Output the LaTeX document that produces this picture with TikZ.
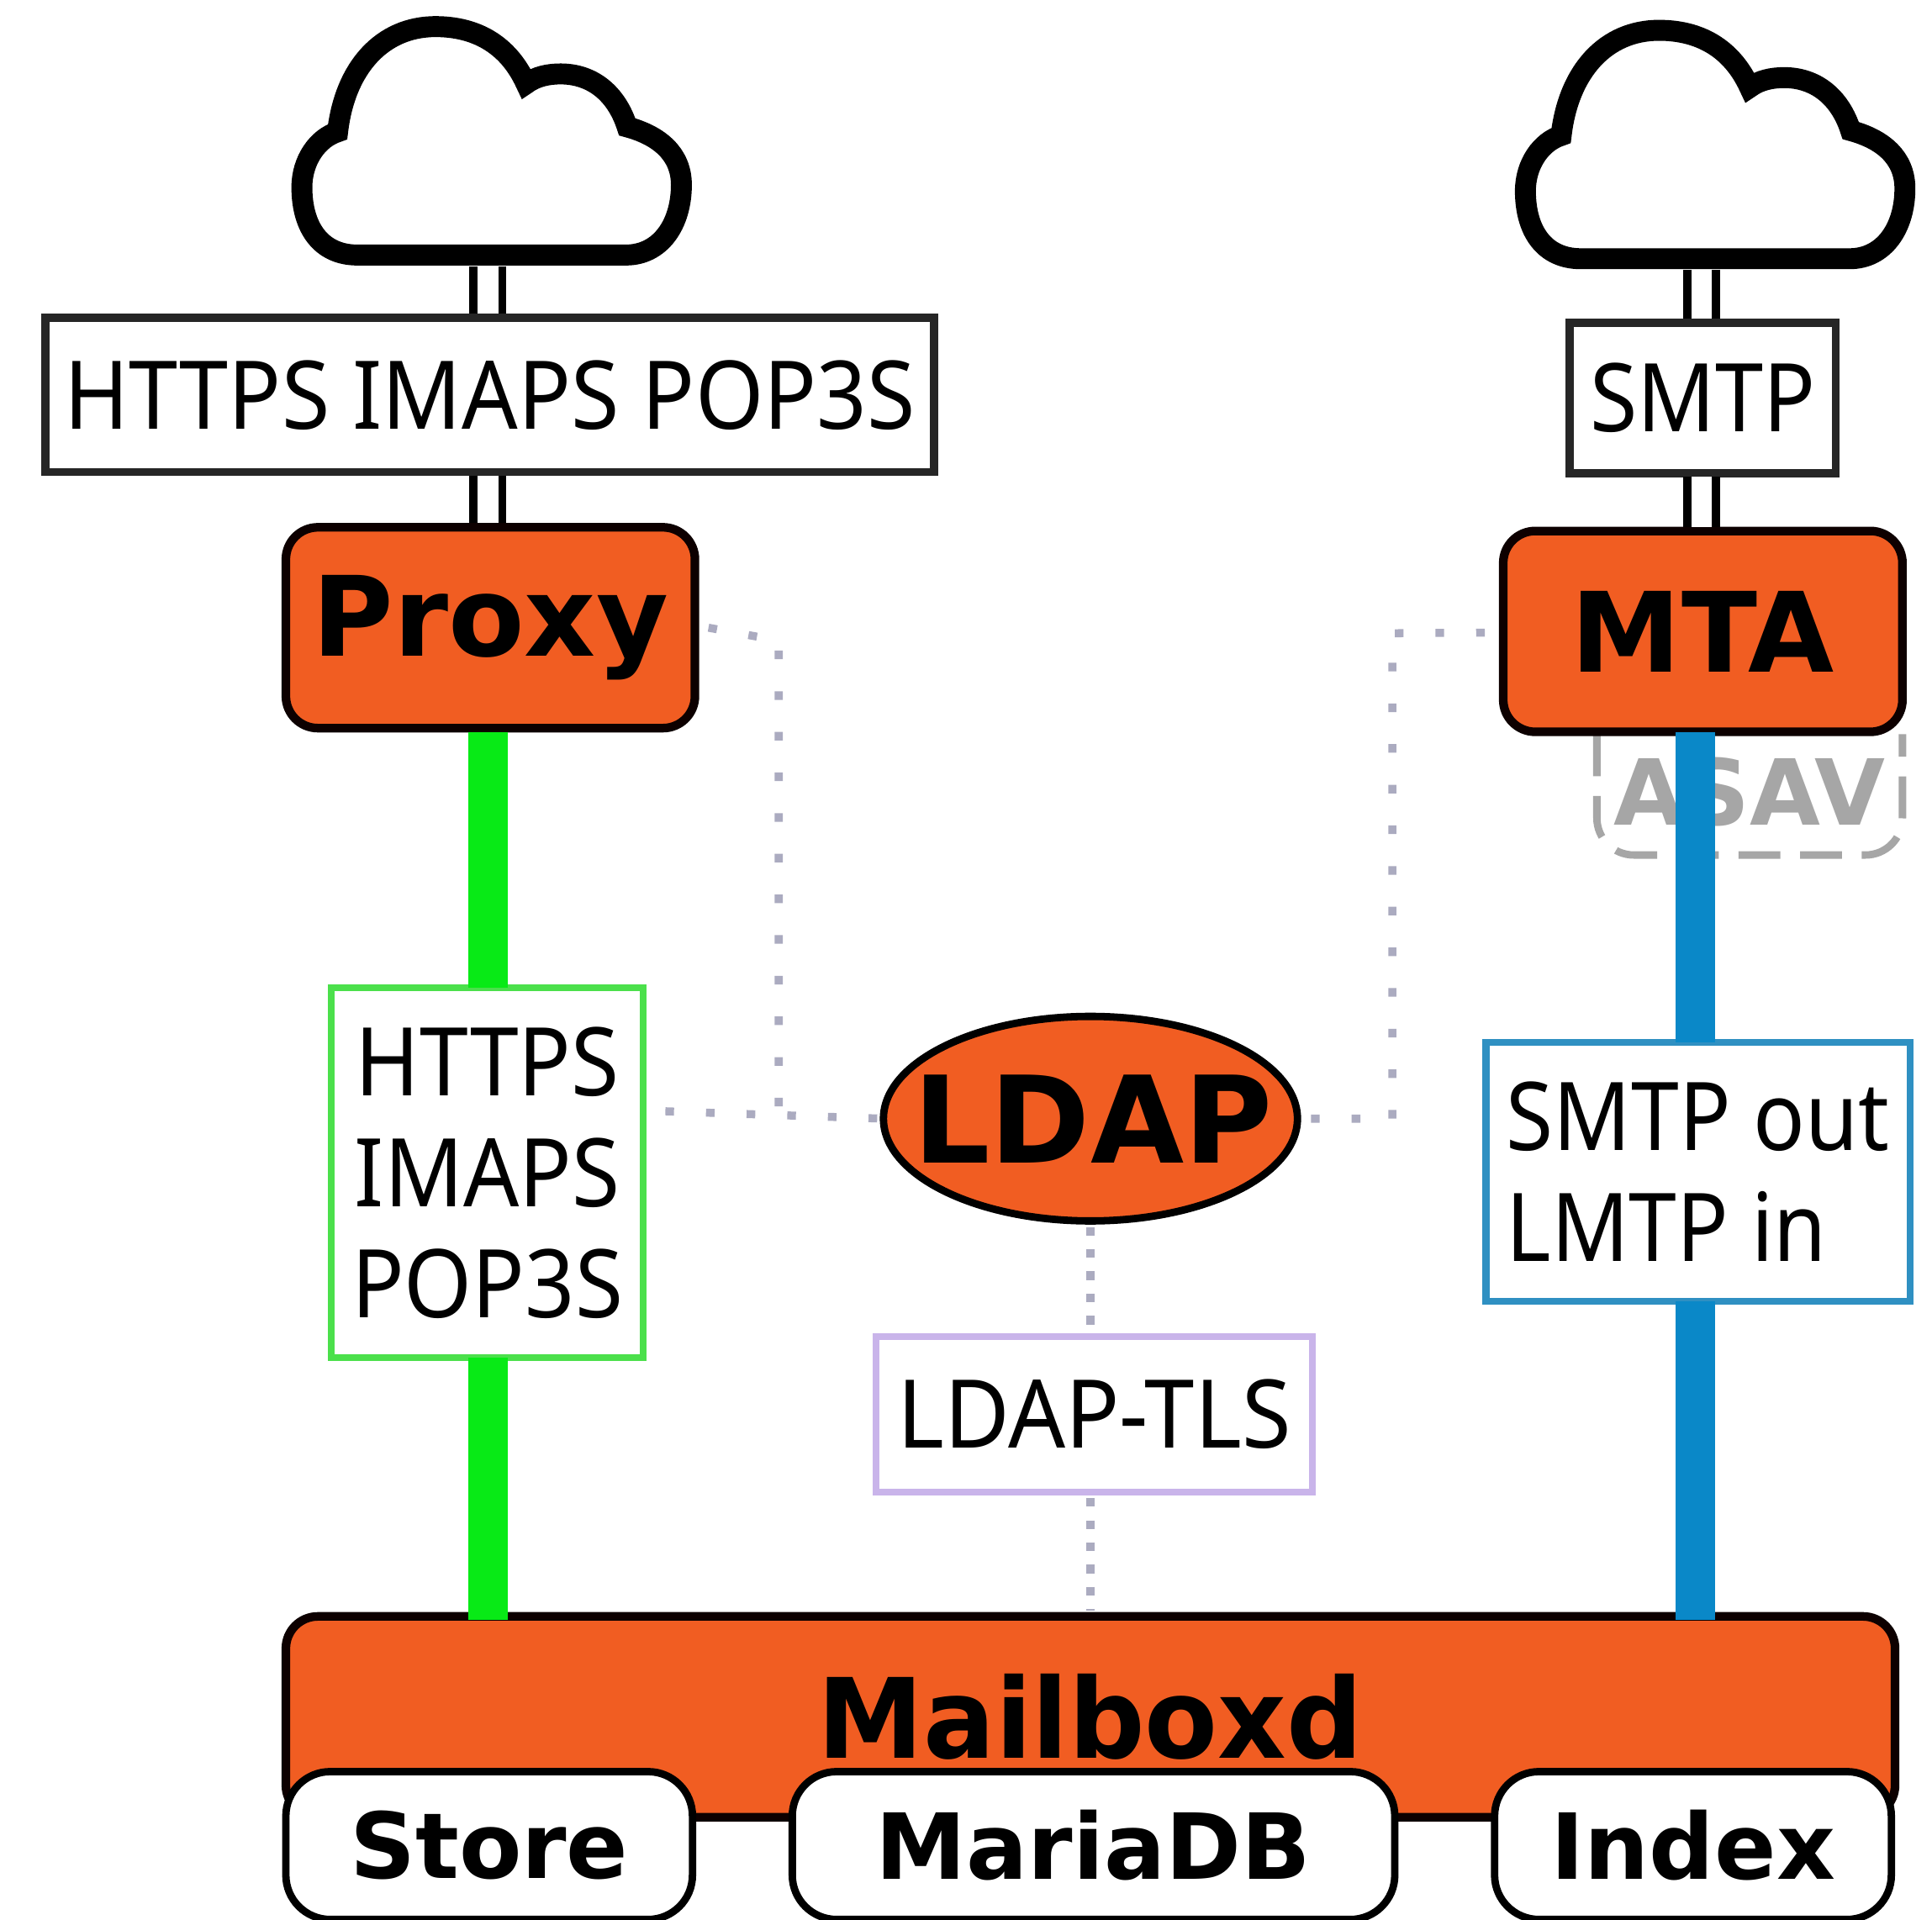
\documentclass[tikz,border=0pt]{standalone}
\usepackage{fontspec}
\usetikzlibrary{shapes.geometric}
\setmainfont{Noto Sans}
\newfontfamily\boldf{DejaVu Sans Bold}
\newcommand{\nar}[2][.925]{\scalebox{#1}[1]{#2}}
\definecolor{zorange}{HTML}{F15D22}
\definecolor{zgreen}{HTML}{08EA16}
\definecolor{zgreenbox}{HTML}{4BE04B}
\definecolor{zblue}{HTML}{0A88C8}
\definecolor{zbluebox}{HTML}{2F90C2}
\definecolor{zpurple}{HTML}{C9B4EA}
\definecolor{zdot}{HTML}{ABABC0}
\definecolor{zgray}{HTML}{A6A6A6}
\tikzset{
  x=1pt,y=-1pt,
  every node/.style={inner sep=0pt,outer sep=0pt},
  thin text/.style={font=\fontsize{77}{90}\selectfont},
  labelbox/.style={rectangle,draw=black!85,line width=6.5pt,fill=white,thin text},
  colorbox/.style={rectangle,draw=#1,line width=5.5pt,fill=white,thin text},
  service/.style={rectangle,rounded corners=26pt,draw=black!95!red,line width=7pt,fill=zorange,font=\boldf\fontsize{90}{90}\selectfont},
  storebox/.style={rectangle,rounded corners=36pt,draw=black,line width=6pt,fill=white,font=\boldf\fontsize{74}{74}\selectfont},
  cloudline/.style={draw=black,line width=17pt,fill=white,miter limit=6},
  twin/.style={draw=black,double=white,double distance=17pt,line width=6.5pt,shorten <=3pt,shorten >=3.5pt},
  thick link/.style={draw=#1,line width=32pt},
  dots/.style={draw=zdot,line width=6.5pt,dash pattern=on 7pt off 26pt},
  dense dots/.style={draw=zdot,line width=6.5pt,dash pattern=on 7pt off 11pt},
  asavline/.style={draw=zgray,line width=6pt,dash pattern=on 34pt off 16pt,rounded corners=30pt},
  cloudpic/.pic={
    \path[cloudline] (290,207) -- (508,207)
      .. controls (536,207) and (553,182) .. (553,150)
      .. controls (553,125) and (535,110) .. (509,103)
      .. controls (500,75) and (480,60) .. (455,60)
      .. controls (445,60) and (435,62) .. (427,68)
      .. controls (412,35) and (385,21.6) .. (353.5,21.6)
      .. controls (310,21.6) and (280,55) .. (274,107)
      .. controls (258,112) and (245,130) .. (245,152)
      .. controls (245,184) and (260,207) .. (290,207) -- cycle;
  }
}
\begin{document}
\begin{tikzpicture}
\useasboundingbox (0,0) rectangle (1568,1558);
\fill[white] (0,0) rectangle (1568,1558);
% clouds
\pic at (0,0) {cloudpic};
\pic at (993,3) {cloudpic};
\coordinate (cloudA) at (396,213);
\coordinate (cloudB) at (1381,216);
\coordinate (bluepos) at (1376,700);
% nodes
\node[font=\boldf\fontsize{74}{74}\selectfont,text=zgray] (asav) at (1420,645) [minimum width=248pt,minimum height=98pt] {\raisebox{5pt}{ASAV}};
\draw[asavline] (asav.north west) -- (asav.south west) -- (asav.south east) -- (asav.north east);
\node[labelbox,minimum width=721pt,minimum height=125pt] (web) at (397.5,320.5) {\nar{HTTPS IMAPS POP3S}};
\node[labelbox,minimum width=216pt,minimum height=122pt] (smtp) at (1382,323) {\nar[.91]{SMTP}};
\node[service,minimum width=332pt,minimum height=163pt] (proxy) at (398,509.5) {\raisebox{-5pt}{Proxy}};
\node[service,minimum width=324pt,minimum height=163pt] (mta) at (1382,512.5) {MTA};
\node[service,minimum width=1306pt,minimum height=163pt] (mbx) at (885,1393.5) {\nar[.96]{Mailboxd}};
\node[storebox,minimum width=330pt,minimum height=120pt] (store) at (397,1498) {\raisebox{-8pt}{Store}};
\node[storebox,minimum width=489pt,minimum height=120pt] (maria) at (887.5,1498) {\raisebox{-8pt}{MariaDB}};
\node[storebox,minimum width=322pt,minimum height=120pt] (index) at (1374,1498) {\raisebox{-8pt}{Index}};
\node[ellipse,draw=black,line width=6pt,fill=zorange,minimum width=336pt,minimum height=166pt,font=\boldf\fontsize{98}{98}\selectfont] (ldap) at (885,908) {\makebox[0pt]{\kern4pt LDAP}};
\node[colorbox=zgreenbox,minimum width=253pt,minimum height=300pt,align=center] (webin) at (395.5,952) {\raisebox{-4pt}{\nar[.92]{HTTPS}}\\\raisebox{-4pt}{\nar[.92]{IMAPS}}\\\raisebox{-4pt}{\nar[.92]{POP3S}}};
\node[colorbox=zbluebox,minimum width=344pt,minimum height=210pt,align=left] (smtpout) at (1378,951) {\raisebox{-3pt}{\nar[.905]{SMTP out}}\\\raisebox{-3pt}{\nar[.905]{LMTP in}}};
\node[colorbox=zpurple,minimum width=354pt,minimum height=126pt] (tls) at (888,1148) {\nar[.945]{LDAP-TLS}};
% connectors
\draw[twin] (cloudA) -- (cloudA |- web.north);
\draw[twin] (web.south -| cloudA) -- (proxy.north -| cloudA);
\draw[twin] (cloudB) -- (cloudB |- smtp.north);
\draw[twin] (smtp.south -| cloudB) -- (mta.north -| cloudB);
\draw[thick link=zgreen,shorten <=3pt] (proxy.south -| cloudA) -- (webin.north -| cloudA);
\draw[thick link=zgreen,shorten >=-3pt] (webin.south -| cloudA) -- (mbx.north -| cloudA);
\draw[thick link=zblue] (mta.south -| bluepos) -- (smtpout.north -| bluepos);
\draw[thick link=zblue,shorten >=-3pt] (smtpout.south -| bluepos) -- (mbx.north -| bluepos);
\coordinate (pcorner) at (632,520);
\coordinate (mcorner) at (1130,514);
\draw[dots] (proxy.east) ++(11,0) -- (pcorner) -- (pcorner |- ldap.west);
\draw[dots] (webin.east) ++(18,-50) -- (ldap.west);
\draw[dots] (mta.west) ++(-15,1) -- (mcorner) -- (mcorner |- ldap.east) -- (ldap.east);
\draw[dense dots,shorten <=5pt] (ldap.south) -- (tls.north -| ldap.south);
\draw[dense dots,shorten <=5pt,shorten >=5pt] (tls.south -| ldap.south) -- (mbx.north -| ldap.south);
\end{tikzpicture}
\end{document}
